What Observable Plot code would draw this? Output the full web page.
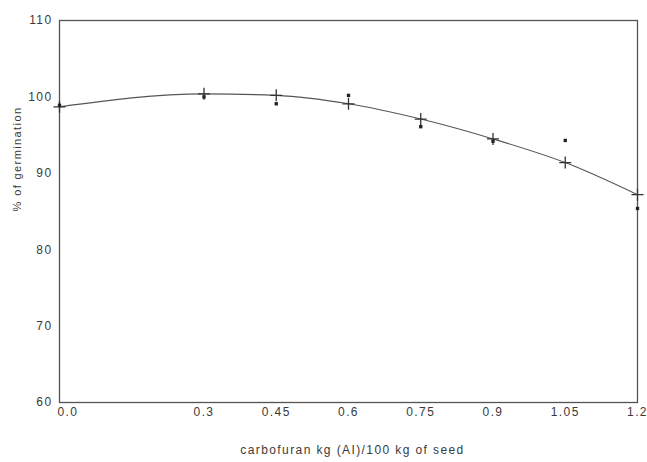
<!DOCTYPE html>
<html>
<head>
<meta charset="utf-8">
<script src="https://cdn.jsdelivr.net/npm/d3@7"></script>
<script src="https://cdn.jsdelivr.net/npm/@observablehq/plot@0.6"></script>
<style>
  html, body { margin: 0; padding: 0; background: #fff; }
  #chart svg { display: block; }
</style>
</head>
<body>
<div id="chart"></div>
<script>
// Dose of carbofuran (kg AI / 100 kg seed)
const doses = [0, 0.3, 0.45, 0.6, 0.75, 0.9, 1.05, 1.2];
// Fitted (predicted) germination, "+" markers joined by the curve
const predicted = [98.7, 100.4, 100.2, 99.1, 97.1, 94.5, 91.4, 87.2];
// Observed germination, small filled markers
const observed = [98.9, 100.0, 99.1, 100.2, 96.1, 94.2, 94.3, 85.4];
// Axis ticks
const xTicks = [0, 0.3, 0.45, 0.6, 0.75, 0.9, 1.05, 1.2];
const xTickLabels = ["0.0", "0.3", "0.45", "0.6", "0.75", "0.9", "1.05", "1.2"];
const yTicks = [60, 70, 80, 90, 100, 110];
const xTitle = "carbofuran kg (AI)/100 kg of seed";
const yTitle = "% of germination";

const predData = doses.map((d, i) => ({dose: d, value: predicted[i]}));
const obsData = doses.map((d, i) => ({dose: d, value: observed[i]}));
const labelOf = new Map(xTicks.map((t, i) => [t, xTickLabels[i]]));

const thinCross = {
  draw(ctx, size) {
    const r = Math.sqrt(size / Math.PI);
    ctx.moveTo(-r, 0); ctx.lineTo(r, 0);
    ctx.moveTo(0, -r); ctx.lineTo(0, r);
  }
};

const ink = "#3a3a3a";
const font = "'Liberation Sans', Arial, Helvetica, sans-serif";

const chart = Plot.plot({
  width: 647,
  height: 462,
  marginLeft: 59,
  marginRight: 10,
  marginTop: 20,
  marginBottom: 60,
  style: {background: "#fff", fontFamily: font, fontSize: "12px", color: ink, letterSpacing: "1.4px"},
  x: {domain: [0, 1.2]},
  y: {domain: [60, 110]},
  marks: [
    Plot.frame({stroke: "#555", strokeWidth: 1.3}),
    Plot.axisY({ticks: yTicks, tickSize: 0, tickPadding: 7, label: null, fill: ink}),
    Plot.axisX({ticks: xTicks.slice(1), tickSize: 0, tickPadding: 5, label: null, fill: ink,
      tickFormat: d => labelOf.get(d)}),
    Plot.axisX({ticks: [xTicks[0]], tickSize: 0, tickPadding: 5, label: null, fill: ink,
      tickFormat: d => labelOf.get(d), textAnchor: "start", dx: -2}),
    Plot.line(predData, {x: "dose", y: "value", curve: "monotone-x", stroke: "#555", strokeWidth: 1.1}),
    Plot.dot(predData, {x: "dose", y: "value", symbol: thinCross, r: 6, fill: "none", stroke: "#333", strokeWidth: 1.3}),
    Plot.dot(obsData, {x: "dose", y: "value", symbol: "square", r: 1.9, fill: "#222", stroke: "none"}),
    Plot.text([xTitle], {frameAnchor: "bottom", dy: 51, dx: 4, text: d => d, fontSize: 12, fill: ink}),
    Plot.text([yTitle], {frameAnchor: "left", dx: -42, text: d => d, rotate: -90, fontSize: 11, fill: ink})
  ]
});
document.getElementById("chart").appendChild(chart);
</script>
</body>
</html>
